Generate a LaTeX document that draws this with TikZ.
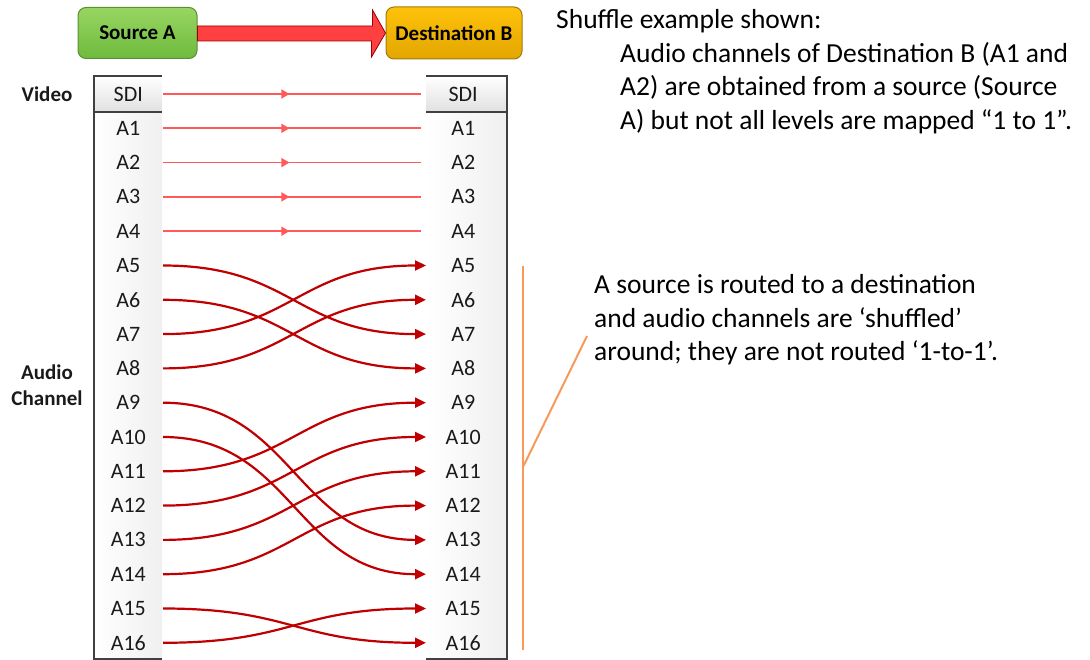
\documentclass[tikz,border=0pt]{standalone}
\usepackage{fontspec}
\setmainfont{Carlito}
\usetikzlibrary{arrows.meta,decorations.markings,calc}
\definecolor{dred}{HTML}{C00000}
\definecolor{lred}{HTML}{FF5A5A}
\definecolor{framec}{HTML}{404040}
\definecolor{orng}{HTML}{F8995A}
\definecolor{txt}{HTML}{1A1A1A}
\definecolor{gtop}{HTML}{98D562}
\definecolor{gbot}{HTML}{6EBB3D}
\definecolor{gdraw}{HTML}{5A8F35}
\definecolor{otop}{HTML}{FFC20A}
\definecolor{obot}{HTML}{E2A600}
\definecolor{odraw}{HTML}{A07A10}
\tikzset{
  lab/.style={inner sep=0pt, text=txt, font=\fontsize{22}{26}\selectfont, align=center},
  llab/.style={lab, anchor=east, minimum width=69pt},
  rlab/.style={lab, anchor=west, minimum width=74pt},
  side/.style={inner sep=0pt, text=txt, font=\bfseries\fontsize{21}{26}\selectfont},
  straight/.style={draw=lred, line width=1.6pt,
    postaction={decorate, decoration={markings,
      mark=at position 0.49 with {\arrow{Triangle[length=8pt,width=9pt]}}}}},
  shuf/.style={draw=dred, line width=2.2pt, -{Triangle[length=11pt,width=10pt]}},
  topbox/.style={rounded corners=8pt, line width=1pt, inner sep=0pt,
    font=\bfseries\fontsize{21}{26}\selectfont, text=black},
  bigarrow/.style={fill=red!75!white, draw=red!60!black, line width=0.8pt, line join=miter},
  para/.style={inner sep=0pt, anchor=base west, text=black, font=\fontsize{27.5}{33}\selectfont},
  bracket/.style={draw=orng, line width=2.4pt},
  framel/.style={draw=framec, line width=2pt}
}
\begin{document}
\begin{tikzpicture}[x=1pt,y=-1pt]
\useasboundingbox (0,0) rectangle (1090,660);

% panels
\fill[left color=white, right color=black!6] (94,112) rectangle (162,659);
\fill[left color=white, right color=black!6] (426,112) rectangle (507,659);
\fill[top color=white, bottom color=black!12] (94,76) rectangle (162,112);
\fill[top color=white, bottom color=black!12] (426,76) rectangle (507,112);
\draw[framel] (162,76) -- (94,76) -- (94,659) -- (162,659);
\draw[framel] (94,112) -- (162,112);
\draw[framel] (426,76) -- (507,76) -- (507,659) -- (426,659);
\draw[framel] (426,112) -- (507,112);

% top boxes
\node[topbox, draw=gdraw, top color=gtop, bottom color=gbot,
      minimum width=119pt, minimum height=51pt] (src) at (137.5,33) {Source A};
\node[topbox, draw=odraw, top color=otop, bottom color=obot,
      minimum width=136pt, minimum height=52pt] (dst) at (454,33) {Destination B};
\draw[bigarrow] ([yshift=7pt]src.east) -- ++(175,0) -- ++(0,-16) -- (dst.west)
   -- ++(-14,24) -- ++(0,-16) -- ([yshift=-8pt]src.east) -- cycle;

% labels
\node[llab] (Ls) at (163,94) {SDI};
\node[rlab] (Rs) at (426,94) {SDI};
\foreach \i in {1,...,16} {
  \node[llab] (L\i) at (163,{94+34.3*\i}) {A\i};
  \node[rlab] (R\i) at (426,{94+34.3*\i}) {A\i};
}

\node[side] (video) at (47,94) {Video};
\node[side, align=center, font=\bfseries\fontsize{21}{26}\selectfont] (audio) at (47,385) {Audio\\Channel};

% straight routes
\draw[straight] (Ls.east) -- ([xshift=-5pt]Rs.west);
\foreach \i in {1,...,4} {
  \draw[straight] (L\i.east) -- ([xshift=-5pt]R\i.west);
}

% shuffled routes
\foreach \a/\b in {5/7,6/8,7/5,8/6,9/13,10/14,11/9,12/10,13/11,14/12,15/16,16/15} {
  \draw[shuf] (L\a.east) .. controls +(130,0) and +(-130,0) .. (R\b.west);
}

% text
\node[para] (t1) at (556,29) {Shuffle example shown:};
\node[para] (t2a) at (620,62.5) {Audio channels of Destination B (A1 and};
\node[para] (t2b) at (620,96) {A2) are obtained from a source (Source};
\node[para] (t2c) at (620,129.5) {A) but not all levels are mapped “1 to 1”.};

\node[para] (t3a) at (594,294) {A source is routed to a destination};
\node[para] (t3b) at (594,327.5) {and audio channels are ‘shuffled’};
\node[para] (t3c) at (594,361) {around; they are not routed ‘1-to-1’.};

% bracket and callout
\coordinate (btop) at (523,266);
\coordinate (bbot) at (523,650);
\coordinate (bmid) at (523,467);
\coordinate (ctip) at (587,336);
\draw[bracket] (btop) -- (bbot);
\draw[bracket, line width=2pt] (bmid) -- (ctip);
\end{tikzpicture}
\end{document}
